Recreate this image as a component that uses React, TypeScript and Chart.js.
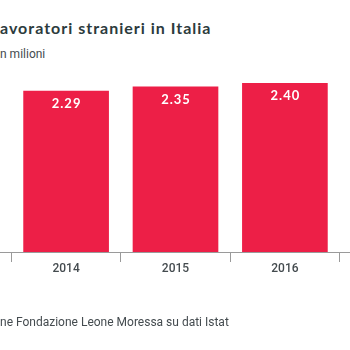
import React, { useEffect, useRef } from "react";
import { Chart, registerables } from "chart.js";

Chart.register(...registerables);

const categories = ["", "2014", "2015", "2016", ""];
const values: (number | null)[] = [null, 2.29, 2.35, 2.4, null];
const titleText = "avoratori stranieri in Italia";
const subtitleText = "n milioni";
const sourceText = "ne Fondazione Leone Moressa su dati Istat";

const BAR_COLOR = "#ed1f47";

const labelPlugin = {
  id: "barLabels",
  afterDatasetsDraw(chart: any) {
    const ctx = chart.ctx;
    const meta = chart.getDatasetMeta(0);
    ctx.save();
    ctx.fillStyle = "#ffffff";
    ctx.font = "bold 13px Lato";
    try {
      (ctx as any).letterSpacing = "1px";
    } catch (e) {}
    ctx.textAlign = "center";
    ctx.textBaseline = "middle";
    meta.data.forEach((bar: any, i: number) => {
      const v = values[i];
      if (v == null) return;
      ctx.fillText(v.toFixed(2), bar.x + 0.5, bar.y + 13);
    });
    ctx.restore();
  },
};

export default function App() {
  const ref = useRef<HTMLCanvasElement>(null);
  useEffect(() => {
    if (!ref.current) return;
    const chart = new Chart(ref.current, {
      type: "bar",
      data: {
        labels: categories,
        datasets: [
          {
            data: values,
            backgroundColor: BAR_COLOR,
            barPercentage: 0.783,
            categoryPercentage: 1,
          },
        ],
      },
      options: {
        animation: false,
        responsive: false,
        layout: { padding: { top: 76, left: 0, right: 0, bottom: 0 } },
        plugins: { legend: { display: false }, tooltip: { enabled: false } },
        scales: {
          y: { display: false, min: 0, max: 2.5 },
          x: {
            afterFit: (scale: any) => {
              scale.height = 98;
            },
            border: { display: true, color: "#9a9a9a", width: 1 },
            grid: {
              display: true,
              drawOnChartArea: false,
              drawTicks: true,
              tickLength: 10,
              color: "#9a9a9a",
              offset: true,
            },
            ticks: {
              color: "#444b4f",
              padding: 0,
              font: { family: "Roboto", size: 12, weight: "500" },
            },
          },
        },
      },
      plugins: [labelPlugin],
    });
    return () => chart.destroy();
  }, []);

  return (
    <div
      style={{
        position: "fixed",
        left: 0,
        top: 0,
        width: 350,
        height: 350,
        overflow: "hidden",
        background: "#fff",
      }}
    >
      <div
        style={{
          position: "absolute",
          left: 0,
          top: 18,
          whiteSpace: "nowrap",
          fontFamily: "Lato",
          fontWeight: 700,
          fontSize: 16,
          letterSpacing: 1,
          color: "#2c3b3d",
        }}
      >
        {titleText}
      </div>
      <div
        style={{
          position: "absolute",
          left: 0,
          top: 47,
          whiteSpace: "nowrap",
          fontFamily: "Roboto",
          fontSize: 12,
          color: "#444b4f",
        }}
      >
        {subtitleText}
      </div>
      <canvas
        ref={ref}
        width={547}
        height={350}
        style={{ position: "absolute", left: -98, top: 0 }}
      />
      <div
        style={{
          position: "absolute",
          left: 0,
          top: 315,
          whiteSpace: "nowrap",
          fontFamily: "Roboto",
          fontSize: 12,
          color: "#444b4f",
        }}
      >
        {sourceText}
      </div>
    </div>
  );
}
